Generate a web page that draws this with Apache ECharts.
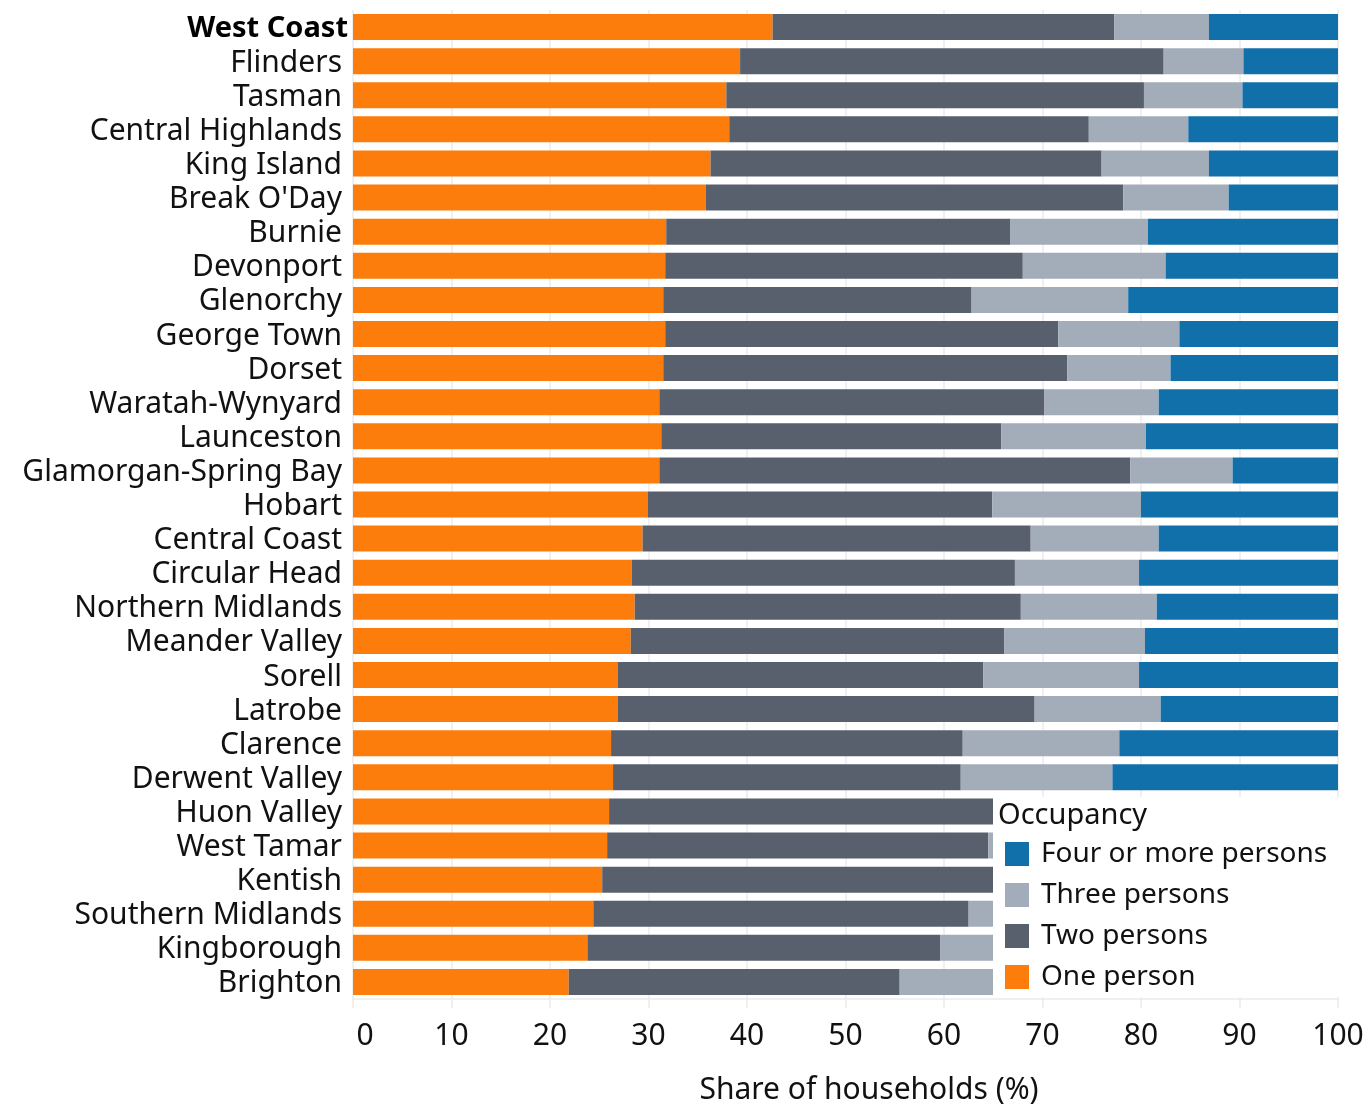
<!DOCTYPE html>
<html>
<head>
<meta charset="utf-8">
<script src="https://cdn.jsdelivr.net/npm/echarts@6/dist/echarts.min.js"></script>
<style>
html,body{margin:0;padding:0;background:#fff;}
#chart{width:1368px;height:1104px;}
</style>
</head>
<body>
<div id="chart"></div>
<script>
const categories = ["West Coast","Flinders","Tasman","Central Highlands","King Island","Break O'Day","Burnie","Devonport","Glenorchy","George Town","Dorset","Waratah-Wynyard","Launceston","Glamorgan-Spring Bay","Hobart","Central Coast","Circular Head","Northern Midlands","Meander Valley","Sorell","Latrobe","Clarence","Derwent Valley","Huon Valley","West Tamar","Kentish","Southern Midlands","Kingborough","Brighton"];
const onePerson   = [42.6,39.3,37.9,38.2,36.3,35.8,31.8,31.7,31.5,31.7,31.5,31.1,31.3,31.1,29.9,29.4,28.3,28.6,28.2,26.9,26.9,26.2,26.4,26.0,25.8,25.3,24.4,23.8,21.9];
const twoPersons  = [34.7,43.0,42.4,36.5,39.7,42.4,34.9,36.3,31.3,39.9,41.0,39.1,34.5,47.8,35.0,39.4,38.9,39.2,37.9,37.1,42.3,35.7,35.3,41.5,38.7,44.7,38.1,35.8,33.6];
const threePersons= [9.6,8.1,10.0,10.1,10.9,10.7,14.0,14.5,15.9,12.3,10.5,11.6,14.7,10.4,15.1,13.0,12.6,13.8,14.3,15.8,12.8,15.9,15.4,13.0,15.0,11.5,14.5,15.4,14.5];
const fourPlus    = [13.1,9.6,9.7,15.2,13.1,11.1,19.3,17.5,21.3,16.1,17.0,18.2,19.5,10.7,20.0,18.2,20.2,18.4,19.6,20.2,18.0,22.2,22.9,19.5,20.5,18.5,23.0,25.0,30.0];
const seriesNames = ["One person","Two persons","Three persons","Four or more persons"];
const legendOrder = ["Four or more persons","Three persons","Two persons","One person"];
const xTicks = [0,10,20,30,40,50,60,70,80,90,100];
const highlighted = "West Coast";

const colors = ["#FC7D0B","#57606C","#A3ACB9","#1170AA"];
const FONT = "Noto Sans";
const chart = echarts.init(document.getElementById('chart'));
const values = [onePerson, twoPersons, threePersons, fourPlus];

const option = {
  animation:false,
  backgroundColor:'#fff',
  textStyle:{fontFamily:FONT},
  grid:{left:353,right:30,top:10,bottom:105,containLabel:false},
  xAxis:{
    type:'value', min:xTicks[0], max:xTicks[xTicks.length-1], interval:10,
    axisLine:{show:true,lineStyle:{color:'#ebebeb',width:1.5}},
    axisTick:{show:true,length:9,lineStyle:{color:'#ebebeb',width:1.5}},
    splitLine:{show:true,lineStyle:{color:'#ebebeb',width:1.5}},
    axisLabel:{
      margin:22, fontSize:30, color:'#111', fontFamily:FONT,
      formatter:function(v){ return v===0 ? '{z|0}' : String(v); },
      rich:{z:{fontSize:30,fontFamily:FONT,color:'#111',padding:[0,0,0,24]}}
    }
  },
  yAxis:{
    type:'category', data:categories, inverse:true,
    axisLine:{show:false}, axisTick:{show:false}, splitLine:{show:false},
    axisLabel:{
      interval:0, margin:11, fontSize:30, color:'#111', fontFamily:FONT,
      padding:[4,0,0,0],
      formatter:function(v){ return v===highlighted ? '{b|'+v+'}' : '{n|'+v+'}'; },
      rich:{
        n:{fontSize:30,fontFamily:FONT,color:'#111'},
        b:{fontSize:29,fontFamily:FONT,fontWeight:'bold',color:'#000',padding:[0,-6,0,0]}
      }
    }
  },
  legend:{
    data:legendOrder, orient:'vertical', left:1005, top:840, padding:0,
    itemWidth:24, itemHeight:24, itemGap:13, icon:'rect', z:20,
    textStyle:{fontSize:28,fontFamily:FONT,color:'#111',padding:[0,0,0,7]}
  },
  graphic:[
    {type:'rect', z:10, shape:{x:993,y:797,width:375,height:200}, style:{fill:'#fff'}},
    {type:'text', z:21, x:998, y:816, style:{text:'Occupancy',fontSize:29,fontFamily:FONT,fill:'#111',verticalAlign:'middle',align:'left'}},
    {type:'text', z:21, x:869, y:1090, style:{text:'Share of households (%)',fontSize:30,fontFamily:FONT,fill:'#111',verticalAlign:'middle',align:'center'}}
  ],
  series: seriesNames.map(function(n,i){
    return {name:n, type:'bar', stack:'total', barWidth:26, data:values[i],
      itemStyle:{color:colors[i]}, emphasis:{disabled:true}};
  })
};
chart.setOption(option);
</script>
</body>
</html>
